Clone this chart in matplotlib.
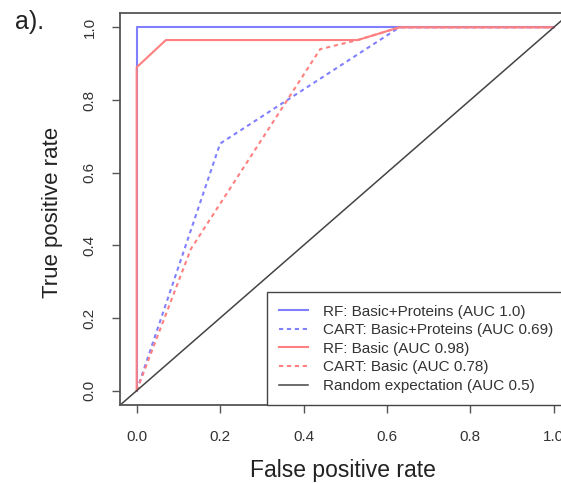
import matplotlib
matplotlib.use("Agg")
import matplotlib.pyplot as plt

plt.rcParams.update({
    "font.family": ["Liberation Sans", "DejaVu Sans"],
    "font.size": 11,
})

# ROC curves (false positive rate, true positive rate)
rf_bp_fpr = [0.0, 0.0, 1.0]
rf_bp_tpr = [0.0, 1.0, 1.0]
cart_bp_fpr = [0.0, 0.2, 0.63, 1.0]
cart_bp_tpr = [0.0, 0.68, 1.0, 1.0]
rf_b_fpr = [0.0, 0.0, 0.07, 0.53, 0.63, 1.0]
rf_b_tpr = [0.0, 0.89, 0.965, 0.965, 1.0, 1.0]
cart_b_fpr = [0.0, 0.13, 0.44, 0.53, 0.63, 1.0]
cart_b_tpr = [0.0, 0.39, 0.94, 0.965, 1.0, 1.0]

labels = ["RF: Basic+Proteins (AUC 1.0)",
          "CART: Basic+Proteins (AUC 0.69)",
          "RF: Basic (AUC 0.98)",
          "CART: Basic (AUC 0.78)",
          "Random expectation (AUC 0.5)"]
ticks = [0.0, 0.2, 0.4, 0.6, 0.8, 1.0]

BLUE = "#8080ff"
RED = "#ff8080"
FRAME = "#555555"
DASH = (2.0, 1.8)

fig = plt.figure(figsize=(5.61, 4.83), dpi=100)
# axes box runs past the right edge of the picture, as in the original crop
ax = fig.add_axes([0.2139, 0.1611, 0.8029, 0.8124])

ax.plot(rf_bp_fpr, rf_bp_tpr, color=BLUE, lw=1.5, label=labels[0])
ax.plot(cart_bp_fpr, cart_bp_tpr, color=BLUE, lw=1.5,
        dashes=DASH, label=labels[1])
ax.plot(rf_b_fpr, rf_b_tpr, color=RED, lw=1.5, label=labels[2])
ax.plot(cart_b_fpr, cart_b_tpr, color=RED, lw=1.5,
        dashes=DASH, label=labels[3])
ax.axline((0, 0), slope=1, color="#444444", lw=1.1, label=labels[4])

ax.set_xlim(-0.04, 1.04)
ax.set_ylim(-0.04, 1.04)
ax.set_xticks(ticks)
ax.set_yticks(ticks)
ax.set_xticklabels([f"{t:.1f}" for t in ticks])
ax.set_yticklabels([f"{t:.1f}" for t in ticks], rotation=90, va="center")
ax.tick_params(direction="out", length=6, width=1.0, color=FRAME,
               labelcolor="#333333", labelsize=11)
ax.tick_params(axis="x", pad=12)
ax.tick_params(axis="y", pad=11)
for s in ax.spines.values():
    s.set_color(FRAME)
    s.set_linewidth(1.3)

ax.set_xlabel("False positive rate", fontsize=16.5, color="#222222")
ax.set_ylabel("True positive rate", fontsize=16, color="#222222")
ax.xaxis.set_label_coords(0.495, -0.137)
ax.yaxis.set_label_coords(-0.126, 0.49)

leg = ax.legend(loc="lower left", bbox_to_anchor=(0.326, 0.0),
                borderaxespad=0, fontsize=11, frameon=True, fancybox=False,
                framealpha=1, edgecolor="#444444", borderpad=0.8,
                handlelength=1.9, handletextpad=0.95, labelspacing=0.3)
leg.get_frame().set_linewidth(1.0)
for t in leg.get_texts():
    t.set_color("#333333")

fig.text(15 / 561, 1 - 22 / 483, "a).", fontsize=18, va="center", ha="left",
         color="#222222")

fig.savefig("out.png", dpi=100)
